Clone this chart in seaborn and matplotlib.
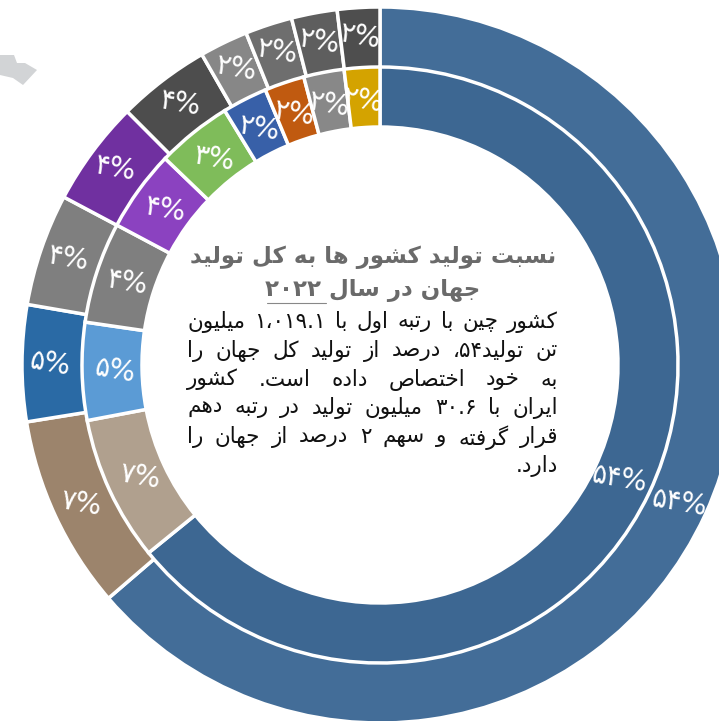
import matplotlib
matplotlib.use("Agg")
import matplotlib.pyplot as plt
import seaborn as sns
from matplotlib.patches import Polygon

# production, million tons (slice sizes as drawn, top ten only)
outer_values = [1019.1, 140, 84, 81, 76, 67, 35, 34, 33, 30.6]
inner_values = [1019.1, 125, 84, 87, 70, 65, 38.8, 34.4, 34.8, 30.6]

# printed shares are of the world total, so they don't match the slices
outer_shares = [54, 7, 5, 4, 4, 4, 2, 2, 2, 2]
inner_shares = [54, 7, 5, 4, 4, 3, 2, 2, 2, 2]

outer_colors = ["#436D98", "#9C846C", "#2A6AA5", "#7F7F7F", "#7030A0",
                "#4D4D4D", "#878787", "#6E6E6E", "#5E5E5E", "#4E4E4E"]
inner_colors = ["#3D6792", "#B0A08E", "#5B9BD5", "#7F7F7F", "#8B42C0",
                "#7FBC5A", "#3860A8", "#C05A10", "#888888", "#D4A300"]

title_lines = ["نسبت تولید کشور ها به کل تولید", "جهان در سال ۲۰۲۲"]
body_lines = [
    "کشور چین با رتبه اول با ۱،۰۱۹.۱ میلیون",
    "تن تولید،۵۴ درصد از تولید کل جهان را",
    "به خود اختصاص داده است. کشور",
    "ایران با ۳۰.۶ میلیون تولید در رتبه دهم",
    "قرار گرفته و سهم ۲ درصد از جهان را",
    "دارد.",
]

# first presentation form of each letter: isolated, final, initial, medial
FORMS = {"ب": 0xFE8F, "پ": 0xFB56, "ت": 0xFE95, "ج": 0xFE9D, "چ": 0xFB7A, "ح": 0xFEA1,
         "خ": 0xFEA5, "س": 0xFEB1, "ش": 0xFEB5, "ص": 0xFEB9, "ض": 0xFEBD, "ط": 0xFEC1,
         "ع": 0xFEC9, "غ": 0xFECD, "ف": 0xFED1, "ق": 0xFED5, "ک": 0xFB8E, "گ": 0xFB92,
         "ل": 0xFEDD, "م": 0xFEE1, "ن": 0xFEE5, "ه": 0xFEE9, "ی": 0xFBFC,
         "ا": 0xFE8D, "د": 0xFEA9, "ذ": 0xFEAB, "ر": 0xFEAD, "ز": 0xFEAF, "ژ": 0xFB8A, "و": 0xFEED}
RIGHT_ONLY = "ادذرزژو"
DIGITS = "۰۱۲۳۴۵۶۷۸۹"


def shape(word):
    """matplotlib has no shaping, so pick the joined letter forms and lay out right to left."""
    out = []
    for i, ch in enumerate(word):
        if ch not in FORMS:
            out.append(ch)
            continue
        before = i > 0 and word[i - 1] in FORMS and word[i - 1] not in RIGHT_ONLY
        after = i + 1 < len(word) and word[i + 1] in FORMS and ch not in RIGHT_ONLY
        out.append(chr(FORMS[ch] + (1 if before else 0) + (2 if after else 0)))
    # reverse everything, then flip digit runs back to reading order
    rev = "".join(reversed(out))
    result, run = "", ""
    for ch in rev:
        if ch in DIGITS or (run and ch in ".،"):
            run += ch
        else:
            result += run[::-1] + ch
            run = ""
    return result + run[::-1]


def to_persian(n):
    return "".join(DIGITS[int(d)] for d in str(n)) + "%"


sns.set_theme(style="white")
plt.rcParams["font.family"] = ["DejaVu Sans"]

fig = plt.figure(figsize=(7.19, 7.21), dpi=100)
ax = fig.add_axes([0, 0, 1, 1])

for values, shares, colors, radius, width, dist in [
    (outer_values, outer_shares, outer_colors, 358, 61, 0.92),
    (inner_values, inner_shares, inner_colors, 298, 60, 0.89),
]:
    wedges, texts = ax.pie(
        values,
        labels=[to_persian(s) for s in shares],
        colors=sns.color_palette(colors),
        radius=radius,
        center=(380, 356),
        startangle=90,
        counterclock=False,
        labeldistance=dist,
        wedgeprops={"width": width, "edgecolor": "white", "linewidth": 2.5},
    )
    for t in texts:
        t.set(color="white", fontsize=20, ha="center", va="center", rotation=-10)

ax.set_aspect("equal")
ax.set_xlim(0, 719)
ax.set_ylim(0, 721)
ax.axis("off")

# bit of the background map showing through at the top left
ax.add_patch(Polygon([(0, 666), (14, 666), (17, 658), (25, 658), (37, 651),
                      (23, 636), (13, 643), (0, 646)], color="#D2D4D6", lw=0))

fig.canvas.draw()
renderer = fig.canvas.get_renderer()

for line, y in zip(title_lines, [464, 431]):
    ax.text(373, y, " ".join(shape(w) for w in reversed(line.split())), fontsize=16.5, fontweight="bold",
            color="#6A6A6A", ha="center", va="center")
ax.plot([267, 326], [418, 418], color="#888888", lw=0.8)

right, left = 558, 187
for i, line in enumerate(body_lines):
    y = 399 - i * 28.8
    words = [ax.text(0, y, shape(w), fontsize=15.5, color="#111111", ha="right", va="center")
             for w in line.split()]
    widths = [w.get_window_extent(renderer).width for w in words]
    # last line of the paragraph is not stretched
    gap = 6 if i == len(body_lines) - 1 else (right - left - sum(widths)) / (len(words) - 1)
    x = right
    for w, wd in zip(words, widths):
        w.set_x(x)
        x -= wd + gap

fig.savefig("out.png", dpi=100)
